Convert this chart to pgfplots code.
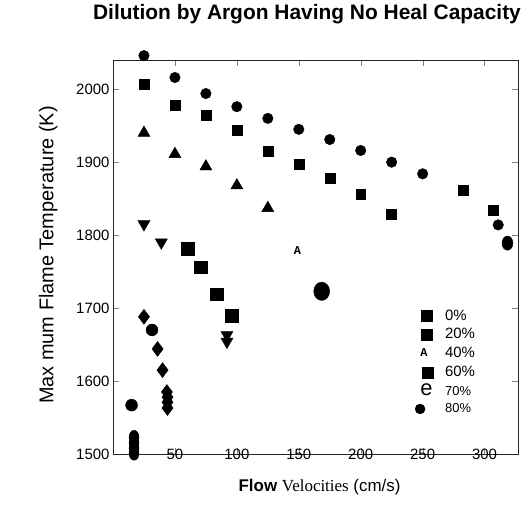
\documentclass[border=0pt]{standalone}
\usepackage{fontspec}
\setmainfont{Liberation Sans}
\newfontfamily\serifff{Liberation Serif}
\setmonofont{Liberation Mono}
\usepackage{pgfplots}
\pgfplotsset{compat=1.18}
\begin{document}
\begin{tikzpicture}
\begin{axis}[
  scale only axis, width=405bp, height=394bp,
  xmin=0, xmax=327, ymin=1500, ymax=2040,
  xtick={50,100,...,300}, ytick={1500,1600,...,2000},
  /pgf/number format/assume math mode=true,
  /pgf/number format/1000 sep={},
  tick label style={font=\fontsize{15}{15}\selectfont},
  xticklabel style={anchor=center},
  axis line style={black!85, line width=0.6pt},
  major tick length=6bp,
  clip=false,
  title={Dilution by Argon Having No Heal Capacity},
  title style={font=\bfseries\fontsize{21}{21}\selectfont, at={(rel axis cs:0.479,1)}, anchor=south, yshift=27bp},
  xlabel={\textbf{Flow} {\serifff Velocities} (cm/s)},
  xlabel style={font=\fontsize{17}{17}\selectfont, at={(rel axis cs:0.51,0)}, anchor=center, yshift=-33bp},
  ylabel={Max mum Flame Temperature (K)},
  ylabel style={font=\fontsize{20}{20}\selectfont, at={(rel axis cs:-0.16,0.505)}, anchor=center},
  legend style={draw=none, fill=none, at={(rel axis cs:0.743,0.372)}, anchor=north west, font=\fontsize{15}{15}\selectfont, row sep=3bp, inner sep=0pt},
  legend cell align=left,
]
% circles (upper series)
\addplot[only marks, mark=*, mark size=5.3, forget plot] coordinates {
(25,2046)(50,2016)(75,1994)(100,1976)(125,1960)(150,1945)(175,1931)(200,1916)(225,1900)(250,1884)(311,1814)};
\addplot[only marks, mark=*, mark size=5.5, mark options={yscale=1.3}, forget plot] coordinates {(318.5,1789)};
% squares (upper series)
\addplot[only marks, mark=square*, mark size=5, forget plot] coordinates {
(25,2007)(50,1978)(75,1964)(100,1944)(125,1915)(150,1897)(175,1878)(200,1856)(225,1829)(283,1862)(307,1834)};
% triangles
\addplot[only marks, mark=triangle*, mark size=7, forget plot] coordinates {
(25,1940)(50,1911)(75,1894)(100,1868)(125,1837)};
% down triangles
\addplot[only marks, mark=triangle*, mark size=7, mark options={rotate=180}, forget plot] coordinates {
(25,1815)(39,1790)(92,1663)(92,1654)};
% lower squares
\addplot[only marks, mark=square*, mark size=6.5, forget plot] coordinates {
(60,1781)(71,1756)(84,1719)(96,1689)};
% diamonds
\addplot[only marks, mark=diamond*, mark size=7.5, forget plot] coordinates {
(25,1688)(36,1644)(40,1615)(43.5,1585)(44,1578)(44,1571)(44,1563)};
% lower circles
\addplot[only marks, mark=*, mark size=6, forget plot] coordinates {(31.5,1670)(15,1567)};
\addplot[only marks, mark=*, mark size=5, mark options={yscale=1.4}, forget plot] coordinates {
(17,1523)(17,1515)(17,1508)(17,1501)};
% big ellipse
\addplot[only marks, mark=*, mark size=8, mark options={yscale=1.15}, forget plot] coordinates {(168.5,1723)};
% text mark A
\addplot[only marks, mark=text, text mark={\ttfamily\bfseries\fontsize{12}{12}\selectfont A}, forget plot] coordinates {(149,1779)};
% legend
\addlegendimage{legend image code/.code={\path[draw=none,fill=none] (0,-5bp) rectangle (29bp,5bp); \fill (13bp-5.5bp,-5.5bp) rectangle (13bp+5.5bp,5.5bp);}}
\addlegendentry{0\%}
\addlegendimage{legend image code/.code={\path[draw=none,fill=none] (0,-5bp) rectangle (29bp,5bp); \fill (13bp-5.5bp,-5.5bp) rectangle (13bp+5.5bp,5.5bp);}}
\addlegendentry{20\%}
\addlegendimage{legend image code/.code={\path[draw=none,fill=none] (0,-5bp) rectangle (29bp,5bp); \node[font=\ttfamily\bfseries\fontsize{12}{12}\selectfont, inner sep=0pt] at (6bp,0) {A};}}
\addlegendentry{40\%}
\addlegendimage{legend image code/.code={\path[draw=none,fill=none] (0,-5bp) rectangle (29bp,5bp); \fill (14bp-5.5bp,-5.5bp) rectangle (14bp+5.5bp,5.5bp);}}
\addlegendentry{60\%}
\addlegendimage{legend image code/.code={\path[draw=none,fill=none] (0,-5bp) rectangle (29bp,5bp); \node[font=\fontsize{22}{22}\selectfont, inner sep=0pt] at (6bp,1.5bp) {e};}}
\addlegendentry{\fontsize{13}{13}\selectfont 70\%}
\addlegendimage{legend image code/.code={\path[draw=none,fill=none] (0,-5bp) rectangle (29bp,5bp); \fill (6bp,0) circle (5bp);}}
\addlegendentry{\fontsize{13}{13}\selectfont 80\%}
\end{axis}
\path ([xshift=-113bp,yshift=-59bp]current axis.south west) rectangle ([xshift=8bp,yshift=60bp]current axis.north east);
\end{tikzpicture}
\end{document}
